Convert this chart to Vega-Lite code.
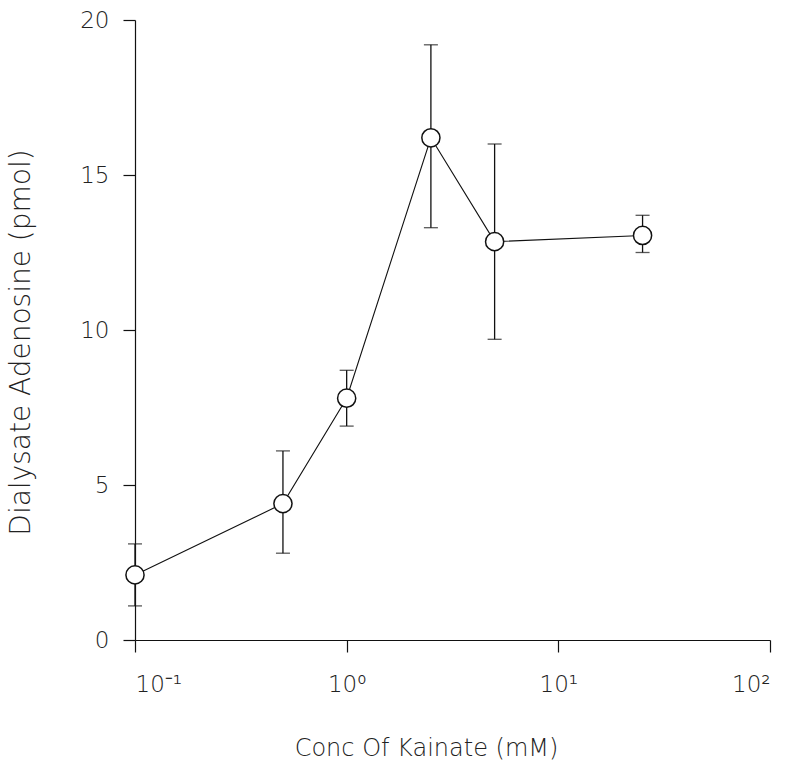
{
  "$schema": "https://vega.github.io/schema/vega-lite/v6.json",
  "width": 635,
  "height": 620,
  "autosize": {"type": "none"},
  "padding": {"left": 135, "top": 20, "right": 26, "bottom": 126},
  "background": "white",
  "config": {
    "view": {"stroke": null},
    "axis": {
      "grid": false,
      "domainColor": "#111",
      "tickColor": "#111",
      "labelFont": "DejaVu Sans",
      "titleFont": "DejaVu Sans",
      "labelColor": "#222",
      "titleColor": "#222",
      "labelFontSize": 23,
      "titleFontSize": 24,
      "labelFontWeight": 200,
      "titleFontWeight": 200,
      "domainWidth": 1.2,
      "tickWidth": 1.2
    }
  },
  "data": {
    "values": [
      {"conc": 0.1, "mean": 2.1, "lo": 1.1, "hi": 3.1},
      {"conc": 0.5, "mean": 4.4, "lo": 2.8, "hi": 6.1},
      {"conc": 1, "mean": 7.8, "lo": 6.9, "hi": 8.7},
      {"conc": 2.5, "mean": 16.2, "lo": 13.3, "hi": 19.2},
      {"conc": 5, "mean": 12.85, "lo": 9.7, "hi": 16.0},
      {"conc": 25, "mean": 13.05, "lo": 12.5, "hi": 13.7}
    ]
  },
  "encoding": {
    "x": {
      "field": "conc",
      "type": "quantitative",
      "scale": {"type": "log", "domain": [0.1, 100]},
      "axis": {
        "title": "Conc Of Kainate (mM)",
        "titleX": 291,
        "values": [0.1, 1, 10, 100],
        "labelExpr": "datum.value < 0.5 ? '10⁻¹' : datum.value < 5 ? '10⁰' : datum.value < 50 ? '10¹' : '10²'",
        "tickSize": 12,
        "labelPadding": 21,
        "titlePadding": 40
      }
    }
  },
  "layer": [
    {
      "mark": {"type": "rule", "color": "#111", "strokeWidth": 1.3},
      "encoding": {
        "y": {"field": "lo", "type": "quantitative"},
        "y2": {"field": "hi"}
      }
    },
    {
      "mark": {"type": "tick", "color": "#111", "orient": "horizontal", "size": 14, "thickness": 1.3},
      "encoding": {"y": {"field": "lo", "type": "quantitative"}}
    },
    {
      "mark": {"type": "tick", "color": "#111", "orient": "horizontal", "size": 14, "thickness": 1.3},
      "encoding": {"y": {"field": "hi", "type": "quantitative"}}
    },
    {
      "mark": {"type": "line", "color": "#111", "strokeWidth": 1.1},
      "encoding": {
        "y": {
          "field": "mean",
          "type": "quantitative",
          "scale": {"domain": [0, 20]},
          "axis": {
            "title": "Dialysate Adenosine (pmol)",
            "titleFontSize": 28,
            "titleY": 322,
            "values": [0, 5, 10, 15, 20],
            "tickSize": 12,
            "labelPadding": 14,
            "titlePadding": 44
          }
        }
      }
    },
    {
      "mark": {"type": "point", "shape": "circle", "filled": true, "fill": "white", "stroke": "#111", "strokeWidth": 1.5, "size": 330, "opacity": 1},
      "encoding": {"y": {"field": "mean", "type": "quantitative"}}
    }
  ]
}
